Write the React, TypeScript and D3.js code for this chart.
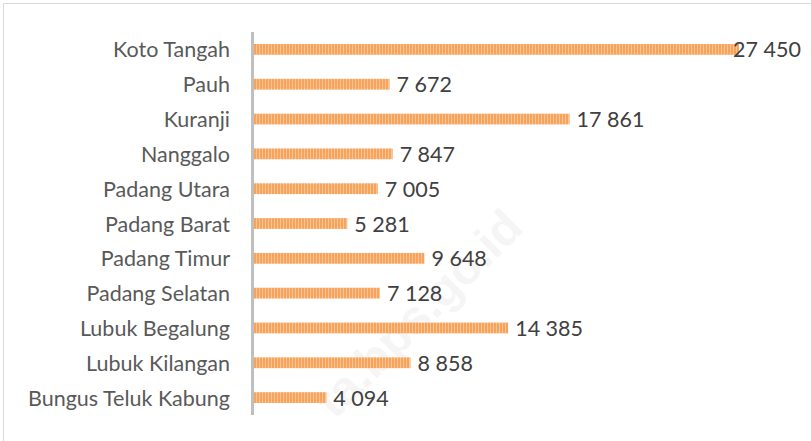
import { useEffect, useRef } from 'react';
import * as d3 from 'd3';

const districts = [
  'Koto Tangah',
  'Pauh',
  'Kuranji',
  'Nanggalo',
  'Padang Utara',
  'Padang Barat',
  'Padang Timur',
  'Padang Selatan',
  'Lubuk Begalung',
  'Lubuk Kilangan',
  'Bungus Teluk Kabung',
];
const values = [27450, 7672, 17861, 7847, 7005, 5281, 9648, 7128, 14385, 8858, 4094];

const width = 811;
const height = 441;

const fmt = (v: number) => d3.format(',')(v).replace(/,/g, ' ');

export default function App() {
  const svgRef = useRef<SVGSVGElement>(null);

  useEffect(() => {
    if (!svgRef.current) return;
    const svg = d3.select(svgRef.current);
    svg.selectAll('*').remove();

    const margin = { top: 32, bottom: 26, left: 254 };

    const x = d3.scaleLinear().domain([0, 27450]).range([0, 485]);
    const y = d3.scaleBand()
      .domain(districts)
      .range([margin.top, height - margin.bottom])
      .paddingInner(0.69)
      .paddingOuter(0.345);

    const font = 'Lato, Open Sans, sans-serif';

    svg.append('rect')
      .attr('width', width)
      .attr('height', height)
      .attr('fill', '#fff');

    // frame (only top and left edges visible)
    svg.append('path')
      .attr('d', `M3.5,${height} V3.5 H${width}`)
      .attr('fill', 'none')
      .attr('stroke', '#d9d9d9')
      .attr('stroke-width', 1);

    const defs = svg.append('defs');
    const pat = defs.append('pattern')
      .attr('id', 'stripes')
      .attr('patternUnits', 'userSpaceOnUse')
      .attr('width', 3)
      .attr('height', 10);
    pat.append('rect').attr('width', 3).attr('height', 10).attr('fill', '#f7a35c');
    pat.append('rect').attr('x', 2).attr('width', 1).attr('height', 10).attr('fill', '#fbc494');

    // watermark
    svg.append('text')
      .attr('transform', 'translate(430,325) rotate(-45)')
      .attr('text-anchor', 'middle')
      .attr('font-family', 'Arial, sans-serif')
      .attr('font-weight', 'bold')
      .attr('font-size', 48)
      .attr('fill', '#000')
      .attr('opacity', 0.035)
      .text('ta.bps.go.id');

    const g = svg.append('g').attr('transform', `translate(${margin.left},0)`);

    g.selectAll('rect.bar')
      .data(values)
      .join('rect')
      .attr('class', 'bar')
      .attr('x', 0)
      .attr('y', (_d, i) => y(districts[i])!)
      .attr('width', d => x(d))
      .attr('height', y.bandwidth())
      .attr('fill', 'url(#stripes)');

    g.selectAll('text.val')
      .data(values)
      .join('text')
      .attr('class', 'val')
      .attr('x', d => x(d) - (d === 27450 ? 6 : -7))
      .attr('y', (_d, i) => y(districts[i])! + y.bandwidth() / 2 + 8)
      .attr('fill', '#404040')
      .attr('font-family', font)
      .attr('font-size', 21.5)
      .text(d => fmt(d));

    // category labels
    svg.selectAll('text.cat')
      .data(districts)
      .join('text')
      .attr('class', 'cat')
      .attr('x', 230)
      .attr('y', d => y(d)! + y.bandwidth() / 2 + 8)
      .attr('text-anchor', 'end')
      .attr('fill', '#595959')
      .attr('font-family', font)
      .attr('font-size', 21.5)
      .text(d => d);

    // vertical axis line
    svg.append('line')
      .attr('x1', margin.left - 1.5)
      .attr('x2', margin.left - 1.5)
      .attr('y1', margin.top)
      .attr('y2', height - margin.bottom)
      .attr('stroke', '#bfbfbf')
      .attr('stroke-width', 3);
  }, []);

  return <svg ref={svgRef} width={width} height={height} style={{ display: 'block', position: 'absolute', left: 0, top: 0 }} />;
}
